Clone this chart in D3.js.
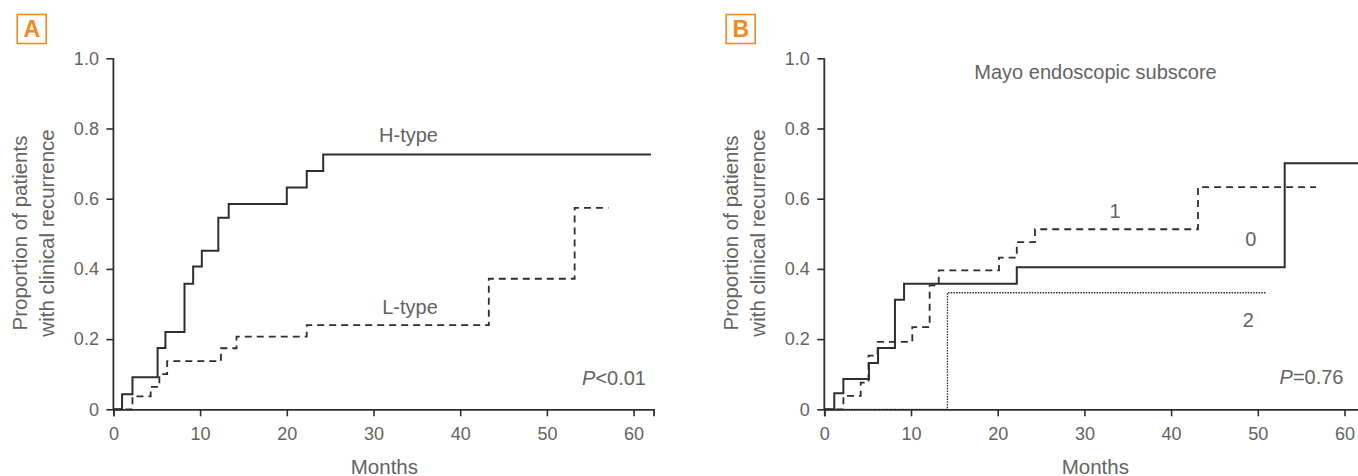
<!DOCTYPE html>
<html>
<head>
<meta charset="utf-8">
<script src="https://cdn.jsdelivr.net/npm/d3@7"></script>
<style>
  html, body { margin: 0; padding: 0; background: #fff; }
  svg { display: block; }
  text { font-family: "Liberation Sans", Arial, Helvetica, sans-serif; fill: #636363; }
</style>
</head>
<body>
<svg id="chart" width="1358" height="476"></svg>
<script>
// ---------- data ----------
const xTicks = [0, 10, 20, 30, 40, 50, 60];
const yTicks = [0, 0.2, 0.4, 0.6, 0.8, 1.0];
const yTickLabels = ["0", "0.2", "0.4", "0.6", "0.8", "1.0"];

// Panel A
const hTypeMonths = [0, 1.0, 2.2, 5.1, 6.0, 8.2, 9.2, 10.2, 12.1, 13.3, 20.0, 22.3, 24.2, 62];
const hTypeValues = [0, 0.043, 0.091, 0.175, 0.22, 0.358, 0.407, 0.452, 0.546, 0.585, 0.632, 0.679, 0.726, 0.726];
const lTypeMonths = [0, 2.2, 4.3, 5.3, 6.2, 12.4, 14.2, 22.3, 43.3, 53.2, 57.1];
const lTypeValues = [0, 0.037, 0.064, 0.10, 0.137, 0.174, 0.207, 0.240, 0.372, 0.574, 0.574];

// Panel B (Mayo endoscopic subscore 0, 1, 2)
const mayo0Months = [0, 1.15, 2.2, 5.15, 6.2, 8.15, 9.2, 22.2, 53.1, 63];
const mayo0Values = [0, 0.046, 0.086, 0.132, 0.175, 0.312, 0.358, 0.405, 0.701, 0.701];
const mayo1Months = [0, 2.2, 4.2, 5.1, 6.15, 10.15, 12.15, 13.2, 20.15, 22.2, 24.3, 43.1, 56.7];
const mayo1Values = [0, 0.038, 0.076, 0.153, 0.192, 0.234, 0.353, 0.396, 0.432, 0.476, 0.513, 0.633, 0.633];
const mayo2Months = [0, 14.2, 50.9];
const mayo2Values = [0, 0.332, 0.332];

// ---------- drawing ----------
const svg = d3.select("#chart");
const ORANGE = "#f18a21";
const INK = "#2e2e2e";

function zip(ms, vs) { return ms.map((m, i) => [m, vs[i]]); }

function panel(opts) {
  const g = svg.append("g");
  const x = d3.scaleLinear().domain([0, 62.3]).range([opts.x0, opts.x0 + 62.3 * 8.67]);
  const y = d3.scaleLinear().domain([0, 1]).range([409.3, 58.3]);

  // letter box
  g.append("rect").attr("x", opts.boxX).attr("y", 14.5).attr("width", 29).attr("height", 29)
    .attr("fill", "none").attr("stroke", ORANGE).attr("stroke-width", 1.6);
  g.append("text").attr("x", opts.boxX + 14.5).attr("y", 36.5).attr("text-anchor", "middle")
    .style("font-size", "23px").style("font-weight", "bold").style("fill", ORANGE).text(opts.letter);

  // axes
  const xAxis = d3.axisBottom(x).tickValues(xTicks).tickFormat(d3.format("d"))
    .tickSize(7).tickSizeOuter(7).tickPadding(10.5);
  const yAxis = d3.axisLeft(y).tickValues(yTicks).tickFormat((d, i) => yTickLabels[i])
    .tickSize(7).tickSizeOuter(0).tickPadding(7.5);

  const gx = g.append("g").attr("transform", `translate(0,${y(0)})`).call(xAxis);
  const gy = g.append("g").attr("transform", `translate(${x(0)},0)`).call(yAxis);
  [gx, gy].forEach(a => {
    a.select(".domain").attr("stroke", INK).attr("stroke-width", 1.8);
    a.selectAll(".tick line").attr("stroke", INK).attr("stroke-width", 1.6);
    a.selectAll(".tick text").style("font-size", "18px").style("fill", "#636363")
      .attr("font-family", null);
  });
  gy.select(".domain").attr("d", `M0,${y(1)}V${y(0)}`);

  // axis titles
  g.append("text").attr("x", x(0) + 271).attr("y", 473.5).attr("text-anchor", "middle")
    .style("font-size", "20.5px").text("Months");
  const yt = g.append("text").attr("transform", `translate(${opts.x0 - 86},233) rotate(-90)`)
    .attr("text-anchor", "middle").style("font-size", "20.5px");
  yt.append("tspan").attr("x", 0).attr("dy", 0).text("Proportion of patients");
  yt.append("tspan").attr("x", 0).attr("dy", 27).text("with clinical recurrence");

  const line = d3.line().x(d => x(d[0])).y(d => y(d[1])).curve(d3.curveStepAfter);
  opts.series.forEach(s => {
    g.append("path").attr("d", line(zip(s.m, s.v))).attr("fill", "none")
      .attr("stroke", INK).attr("stroke-width", s.w)
      .attr("stroke-dasharray", s.dash || null);
  });

  opts.labels.forEach(l => {
    const t = g.append("text").attr("x", l.x).attr("y", l.y).attr("text-anchor", l.anchor || "middle")
      .style("font-size", (l.size || 20) + "px");
    if (l.p) {
      t.append("tspan").style("font-style", "italic").text("P");
      t.append("tspan").text(l.text);
    } else {
      t.text(l.text);
    }
  });
}

panel({
  letter: "A", boxX: 17.2, x0: 113.4,
  series: [
    { m: hTypeMonths, v: hTypeValues, w: 2 },
    { m: lTypeMonths, v: lTypeValues, w: 1.8, dash: "7,5" }
  ],
  labels: [
    { text: "H-type", x: 408.5, y: 142 },
    { text: "L-type", x: 410, y: 313.5 },
    { text: "<0.01", x: 646, y: 384.5, anchor: "end", p: true }
  ]
});

panel({
  letter: "B", boxX: 726.2, x0: 824.3,
  series: [
    { m: mayo0Months, v: mayo0Values, w: 2 },
    { m: mayo1Months, v: mayo1Values, w: 1.8, dash: "7,5" },
    { m: mayo2Months, v: mayo2Values, w: 1.3, dash: "1.5,1.2" }
  ],
  labels: [
    { text: "Mayo endoscopic subscore", x: 1095.5, y: 78.5 },
    { text: "1", x: 1115, y: 217.5 },
    { text: "0", x: 1250.7, y: 246 },
    { text: "2", x: 1248.3, y: 327 },
    { text: "=0.76", x: 1343.5, y: 384, anchor: "end", p: true }
  ]
});
</script>
</body>
</html>
